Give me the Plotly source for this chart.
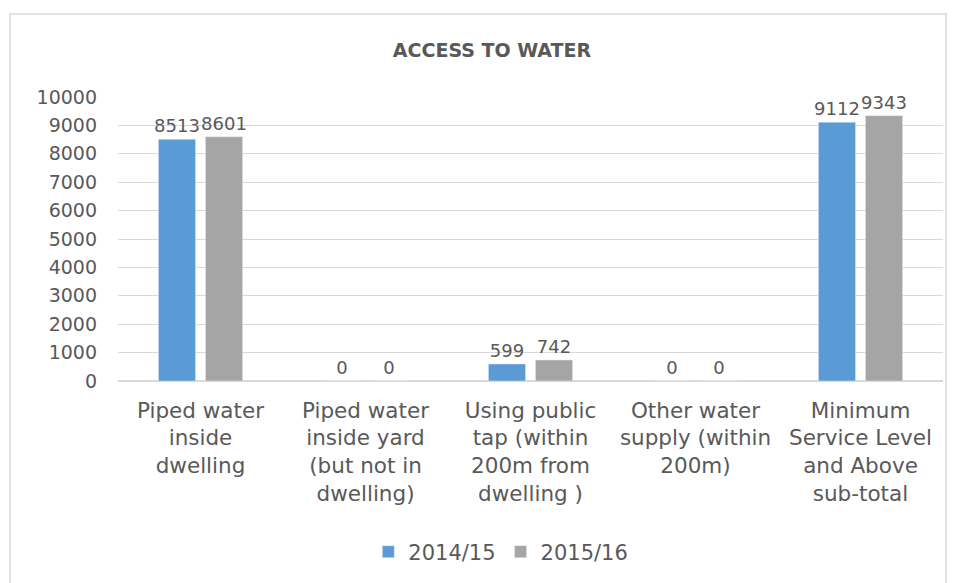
import plotly.graph_objects as go

# Datos del gráfico
categorias = [
    "Piped water<br>inside<br>dwelling",
    "Piped water<br>inside yard<br>(but not in<br>dwelling)",
    "Using public<br>tap (within<br>200m from<br>dwelling )",
    "Other water<br>supply (within<br>200m)",
    "Minimum<br>Service Level<br>and Above<br>sub-total",
]
valores_2014 = [8513, 0, 599, 0, 9112]
valores_2015 = [8601, 0, 742, 0, 9343]
series = ["2014/15", "2015/16"]

gris_texto = "#595959"
fuente = "Century Gothic, DejaVu Sans, sans-serif"

# Tamaño de la figura (la página añade 8px de margen)
ancho, alto = 949, 575
izq, der, arriba, abajo = 110, 14, 89, 202
ancho_plot = ancho - izq - der
alto_plot = alto - arriba - abajo

fig = go.Figure()
fig.add_trace(go.Bar(x=categorias, y=valores_2014, name=series[0], marker_color="#5B9BD5",
                     text=valores_2014, textposition="outside", cliponaxis=False))
fig.add_trace(go.Bar(x=categorias, y=valores_2015, name=series[1], marker_color="#A5A5A5",
                     text=valores_2015, textposition="outside", cliponaxis=False))

fig.update_traces(textfont=dict(size=18, color=gris_texto, family=fuente), constraintext="none")

# Diseño general
fig.update_layout(
    width=ancho, height=alto,
    margin=dict(l=izq, r=der, t=arriba, b=abajo),
    plot_bgcolor="white", paper_bgcolor="white",
    font=dict(family=fuente, color=gris_texto, size=19),
    barmode="group", bargap=0.43, bargroupgap=0.21,
    title=dict(text="<b>ACCESS TO WATER</b>", x=0.51, xanchor="center",
               y=1 - 42 / alto, yanchor="middle", font=dict(size=19, color=gris_texto)),
    legend=dict(orientation="h", x=0.464, xanchor="center", yref="container",
                y=1 - 544 / alto, yanchor="middle", font=dict(size=21)),
    showlegend=True,
)

fig.update_yaxes(range=[0, 10000], dtick=1000, tickformat="d", gridcolor="#D9D9D9", gridwidth=1,
                 zeroline=True, zerolinecolor="#D9D9D9", showline=False,
                 tickfont=dict(size=19), ticks="", ticklabelstandoff=20)
fig.update_xaxes(tickfont=dict(size=21.5), tickangle=0, showline=False, ticks="",
                 ticklabelstandoff=14)

# Borde del gráfico
fig.add_shape(type="rect", xref="paper", yref="paper",
              x0=(2 - izq) / ancho_plot, x1=(938 - izq) / ancho_plot,
              y0=(alto - abajo - 600) / alto_plot, y1=(alto - abajo - 6) / alto_plot,
              line=dict(color="#D9D9D9", width=1.5), layer="below")

fig.write_html("out.html")
